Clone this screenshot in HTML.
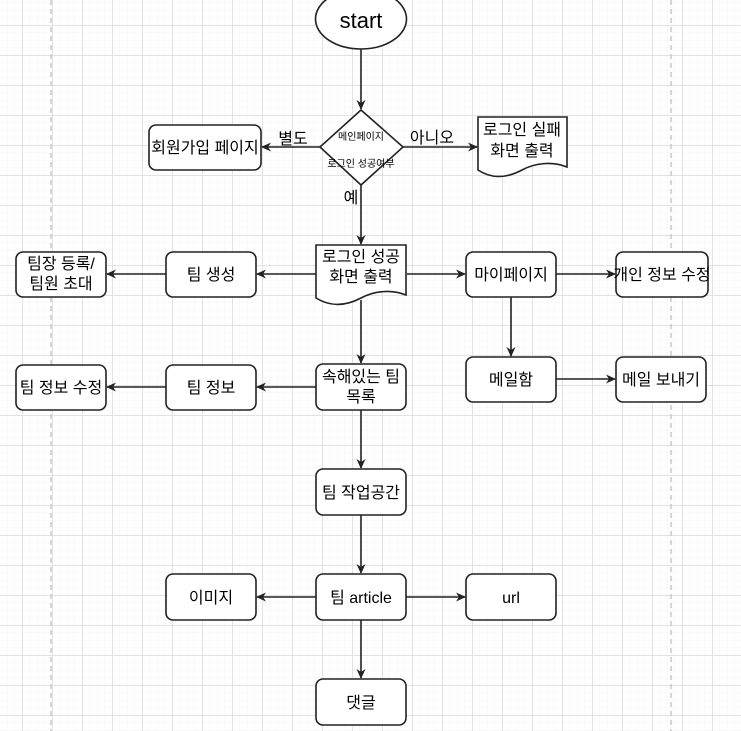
<!DOCTYPE html>
<html><head><meta charset="utf-8"><style>
html,body{margin:0;padding:0;background:#fff;}
svg{display:block;}
text{font-family:"Liberation Sans","Noto Sans CJK KR",sans-serif;fill:#000;}
</style></head><body>
<svg width="741" height="731" viewBox="0 0 741 731" xmlns="http://www.w3.org/2000/svg">
<defs>
<pattern id="minor" x="22" y="25" width="7.5" height="7.5" patternUnits="userSpaceOnUse">
<path d="M0,0 H7.5 M0,0 V7.5" stroke="#f3f3f3" stroke-width="1" fill="none"/>
</pattern>
<pattern id="major" x="22" y="25" width="30" height="30" patternUnits="userSpaceOnUse">
<path d="M0,0.5 H30 M0.5,0 V30" stroke="#e2e2e2" stroke-width="1" fill="none"/>
</pattern>
<marker id="a" markerWidth="10" markerHeight="10" refX="9" refY="5" orient="auto" markerUnits="userSpaceOnUse">
<path d="M0,0.5 L10,5 L0,9.5 L3,5 Z" fill="#222"/>
</marker>
</defs>
<rect width="741" height="731" fill="#fff"/>
<rect width="741" height="731" fill="url(#minor)"/>
<rect width="741" height="731" fill="url(#major)"/>
<line x1="51" y1="0" x2="51" y2="731" stroke="#c8c8c8" stroke-width="1.5" stroke-dasharray="5,4"/>
<line x1="671" y1="0" x2="671" y2="731" stroke="#c8c8c8" stroke-width="1.5" stroke-dasharray="5,4"/>

<g stroke="#222" stroke-width="1.6" fill="none">
<line x1="361" y1="49" x2="361" y2="109" marker-end="url(#a)"/>
<line x1="320" y1="147" x2="262" y2="147" marker-end="url(#a)"/>
<line x1="403" y1="147" x2="477" y2="147" marker-end="url(#a)"/>
<line x1="361" y1="185" x2="361" y2="244" marker-end="url(#a)"/>
<line x1="316" y1="274" x2="257" y2="274" marker-end="url(#a)"/>
<line x1="166" y1="274" x2="107" y2="274" marker-end="url(#a)"/>
<line x1="407" y1="274" x2="465" y2="274" marker-end="url(#a)"/>
<line x1="556" y1="274" x2="615" y2="274" marker-end="url(#a)"/>
<line x1="511" y1="297" x2="511" y2="356" marker-end="url(#a)"/>
<line x1="556" y1="379" x2="615" y2="379" marker-end="url(#a)"/>
<line x1="361" y1="300" x2="361" y2="363" marker-end="url(#a)"/>
<line x1="316" y1="387" x2="257" y2="387" marker-end="url(#a)"/>
<line x1="166" y1="387" x2="107" y2="387" marker-end="url(#a)"/>
<line x1="361" y1="410" x2="361" y2="468" marker-end="url(#a)"/>
<line x1="361" y1="515" x2="361" y2="573" marker-end="url(#a)"/>
<line x1="316" y1="597" x2="257" y2="597" marker-end="url(#a)"/>
<line x1="406" y1="597" x2="465" y2="597" marker-end="url(#a)"/>
<line x1="361" y1="620" x2="361" y2="678" marker-end="url(#a)"/>
</g>

<g stroke="#222" stroke-width="1.6" fill="#fff">
<ellipse cx="361" cy="19" rx="45.5" ry="30"/>
<polygon points="361,110 403,147 361,185 320,147"/>
<rect x="149" y="125" width="112" height="45" rx="7"/>
<path d="M478,117 H567 V167 C552,161 535,163 522,170 C505,179 490,178 478,170 Z"/>
<path d="M316,245 H406 V295 C391,289 374,291 361,298 C344,307 329,306 316,298 Z"/>
<rect x="16" y="252" width="90" height="45" rx="7"/>
<rect x="166" y="252" width="90" height="45" rx="7"/>
<rect x="466" y="252" width="90" height="45" rx="7"/>
<rect x="616" y="252" width="92" height="45" rx="7"/>
<rect x="466" y="357" width="90" height="45" rx="7"/>
<rect x="616" y="357" width="90" height="45" rx="7"/>
<rect x="16" y="365" width="90" height="45" rx="7"/>
<rect x="166" y="365" width="90" height="45" rx="7"/>
<rect x="316" y="364" width="90" height="46" rx="7"/>
<rect x="316" y="469" width="90" height="46" rx="7"/>
<rect x="316" y="574" width="90" height="46" rx="7"/>
<rect x="166" y="574" width="90" height="46" rx="7"/>
<rect x="466" y="574" width="90" height="46" rx="7"/>
<rect x="316" y="679" width="90" height="46" rx="7"/>
</g>

<g font-size="16" text-anchor="middle">
<text x="361" y="28" font-size="22">start</text>
<text x="361" y="140" font-size="10">메인페이지</text>
<text x="361" y="167" font-size="10">로그인 성공여부</text>
<text x="293" y="144">별도</text>
<text x="432" y="143">아니오</text>
<text x="351" y="203">예</text>
<text x="205" y="153">회원가입 페이지</text>
<text x="522" y="135">로그인 실패</text>
<text x="522" y="156">화면 출력</text>
<text x="361" y="262">로그인 성공</text>
<text x="361" y="282">화면 출력</text>
<text x="61" y="269">팀장 등록/</text>
<text x="61" y="289">팀원 초대</text>
<text x="211" y="280">팀 생성</text>
<text x="511" y="280">마이페이지</text>
<text x="662" y="280">개인 정보 수정</text>
<text x="511" y="385">메일함</text>
<text x="661" y="385">메일 보내기</text>
<text x="61" y="393">팀 정보 수정</text>
<text x="211" y="393">팀 정보</text>
<text x="361" y="382">속해있는 팀</text>
<text x="361" y="402">목록</text>
<text x="361" y="498">팀 작업공간</text>
<text x="361" y="603">팀 article</text>
<text x="211" y="603">이미지</text>
<text x="511" y="603">url</text>
<text x="361" y="708">댓글</text>
</g>
</svg>
</body></html>
